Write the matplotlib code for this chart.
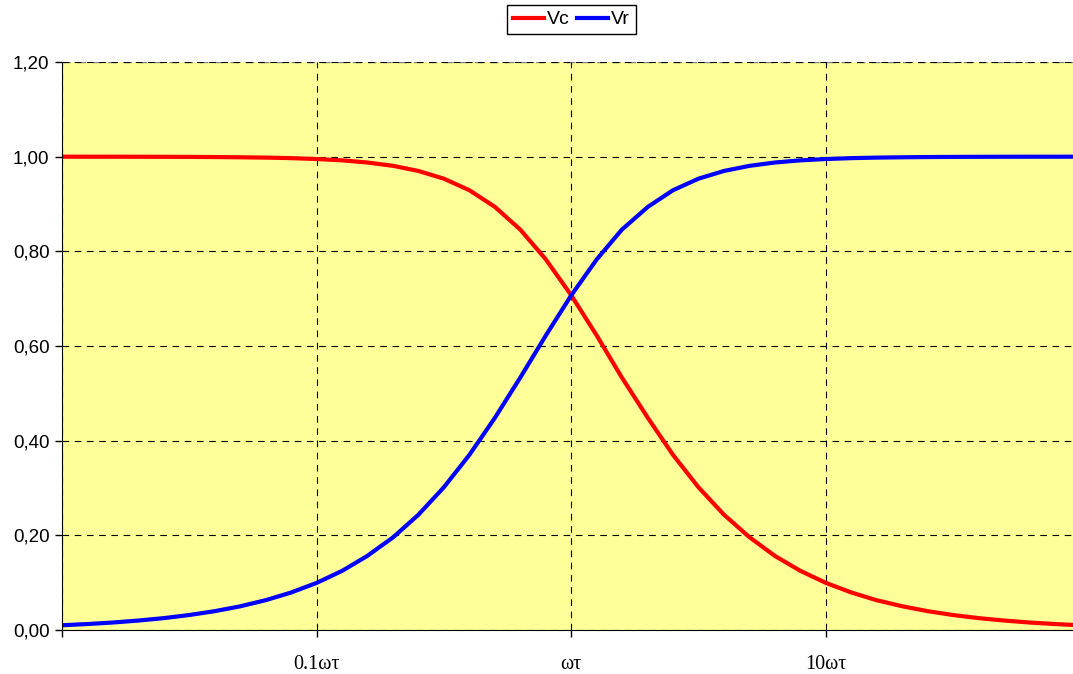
import numpy as np
import matplotlib.pyplot as plt
from matplotlib.ticker import FixedLocator, FixedFormatter, NullLocator

# values (x in units of omega*tau)
x_vals = [0.01, 0.0126, 0.0158, 0.02, 0.0251, 0.0316, 0.0398, 0.0501, 0.0631,
          0.0794, 0.1, 0.126, 0.158, 0.2, 0.251, 0.316, 0.398, 0.501, 0.631,
          0.794, 1.0, 1.26, 1.58, 2.0, 2.51, 3.16, 3.98, 5.01, 6.31, 7.94,
          10.0, 12.6, 15.8, 20.0, 25.1, 31.6, 39.8, 50.1, 63.1, 79.4, 100.0]
vc = [1.0000, 0.9999, 0.9999, 0.9998, 0.9997, 0.9995, 0.9992, 0.9987, 0.9980,
      0.9969, 0.9950, 0.9922, 0.9877, 0.9806, 0.9698, 0.9535, 0.9291, 0.8940,
      0.8458, 0.7832, 0.7071, 0.6219, 0.5335, 0.4480, 0.3699, 0.3015, 0.2435,
      0.1961, 0.1564, 0.1250, 0.0995, 0.0792, 0.0630, 0.0500, 0.0398, 0.0316,
      0.0251, 0.0200, 0.0158, 0.0126, 0.0100]
vr = [0.0100, 0.0126, 0.0158, 0.0200, 0.0251, 0.0316, 0.0398, 0.0500, 0.0630,
      0.0792, 0.0995, 0.1250, 0.1564, 0.1961, 0.2435, 0.3015, 0.3699, 0.4480,
      0.5335, 0.6219, 0.7071, 0.7832, 0.8458, 0.8940, 0.9291, 0.9535, 0.9698,
      0.9806, 0.9877, 0.9922, 0.9950, 0.9969, 0.9980, 0.9987, 0.9992, 0.9995,
      0.9997, 0.9998, 0.9999, 0.9999, 1.0000]

x_ticks = [0.1, 1, 10]
x_labels = ["0.1\u03c9\u03c4", "\u03c9\u03c4", "10\u03c9\u03c4"]
y_ticks = [0.0, 0.2, 0.4, 0.6, 0.8, 1.0, 1.2]

fig = plt.figure(figsize=(10.73, 6.74), dpi=100)
ax = fig.add_axes([62 / 1073, 44 / 674, 1018.5 / 1073, 568 / 674])
ax.set_facecolor("#FFFF99")

ax.plot(x_vals, vc, color="#FF0000", lw=3, label="Vc")
ax.plot(x_vals, vr, color="#0000FF", lw=3, label="Vr")

ax.set_xscale("log")
ax.set_xlim(0.01, 100)
ax.set_ylim(0, 1.2)

ax.xaxis.set_major_locator(FixedLocator([0.01] + x_ticks))
ax.xaxis.set_major_formatter(FixedFormatter([""] + x_labels))
ax.xaxis.set_minor_locator(NullLocator())
ax.set_yticks(y_ticks)
ax.set_yticklabels([("%.2f" % v).replace(".", ",") for v in y_ticks])

for lab in ax.get_xticklabels():
    lab.set_fontfamily("Liberation Serif")
    lab.set_fontsize(14.5)
for lab in ax.get_yticklabels():
    lab.set_fontfamily("Liberation Sans")
    lab.set_fontsize(13.5)

ax.tick_params(axis="both", direction="out", length=5, width=1, color="black")
ax.tick_params(axis="x", pad=13)
ax.tick_params(axis="y", pad=4)

ax.grid(True, which="major", color="black", linestyle=(0, (6, 5)), lw=0.8)
ax.set_axisbelow(True)
for side in ["top", "right"]:
    ax.spines[side].set_visible(False)
ax.spines["left"].set_color("black")
ax.spines["bottom"].set_color("black")
ax.axhline(1.2, color="gray", lw=1, linestyle=(0, (6, 5)), zorder=0.5)

leg = ax.legend(loc="upper center", bbox_to_anchor=(571.5 / 1073, 669 / 674),
                bbox_transform=fig.transFigure, ncol=2, frameon=True,
                fancybox=False, edgecolor="black", framealpha=1,
                prop={"family": "Liberation Sans", "size": 14},
                handlelength=1.6, handletextpad=0.15, columnspacing=0.4,
                borderpad=0.3, borderaxespad=0)
leg.get_frame().set_linewidth(1)

fig.savefig("out.png", dpi=100)
